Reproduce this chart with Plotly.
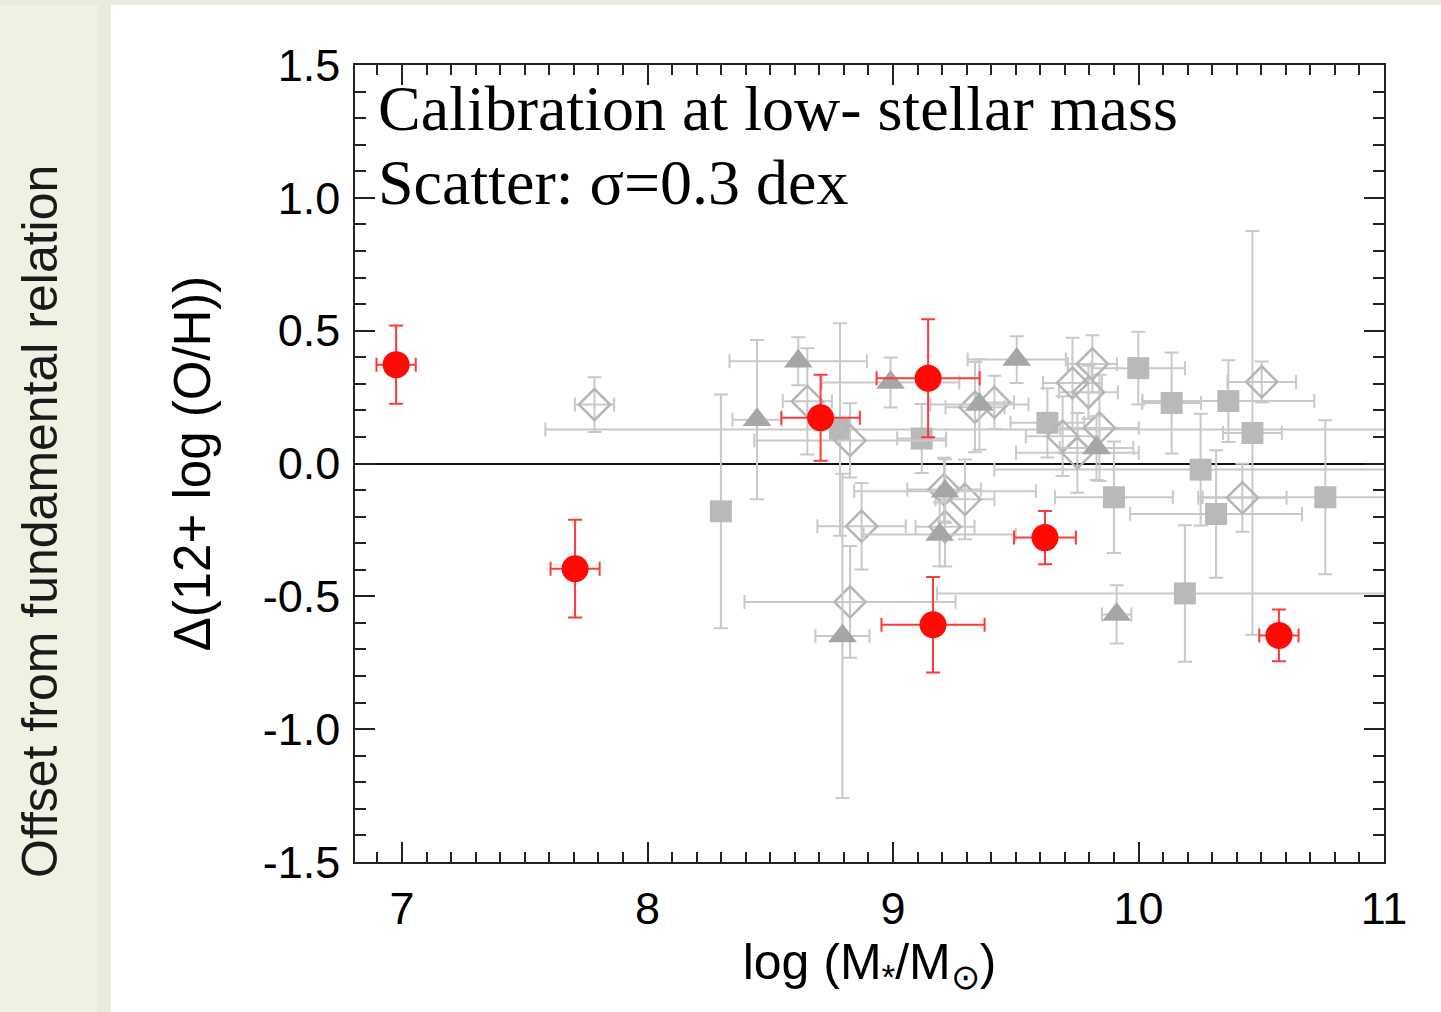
import plotly.graph_objects as go

# ---------------- data ----------------
# red filled circles
red_x = [6.976, 7.705, 8.705, 9.143, 9.619, 9.163, 10.572]
red_y = [0.372, -0.396, 0.172, 0.321, -0.279, -0.607, -0.647]
red_xerr = [0.08, 0.10, 0.16, 0.21, 0.126, 0.21, 0.08]
red_yerr = [0.147, 0.184, 0.162, 0.222, 0.10, 0.18, 0.097]

# grey filled squares
sq_x = [8.299, 8.784, 9.117, 9.629, 9.999, 10.135, 10.366, 10.464, 10.253, 10.189, 10.316, 9.900, 10.761]
sq_y = [-0.180, 0.128, 0.094, 0.153, 0.359, 0.228, 0.235, 0.115, -0.023, -0.489, -0.190, -0.127, -0.127]
sq_xerr_lo = [0.0, 1.20, 0.10, 0.15, 0.19, 0.12, 0.35, 0.12, 0.84, 1.01, 0.35, 0.24, 0.50]
sq_xerr_hi = [0.0, 2.30, 0.10, 0.15, 0.19, 0.12, 0.35, 0.12, 0.84, 1.01, 0.35, 0.24, 0.50]
sq_yerr = [0.44, 0.40, 0.13, 0.13, 0.137, 0.19, 0.154, 0.76, 0.21, 0.257, 0.24, 0.21, 0.29]

# grey filled triangles
tr_x = [8.446, 8.614, 8.990, 9.504, 9.352, 9.829, 9.212, 9.190, 8.794, 9.911]
tr_y = [0.165, 0.385, 0.305, 0.391, 0.222, 0.058, -0.104, -0.267, -0.649, -0.568]
tr_xerr = [0.10, 0.28, 0.28, 0.20, 0.20, 0.15, 0.37, 0.31, 0.11, 0.06]
tr_yerr = [0.30, 0.09, 0.094, 0.088, 0.17, 0.12, 0.12, 0.12, 0.61, 0.11]

# grey open diamonds
di_x = [7.784, 8.651, 8.825, 8.872, 8.825, 9.208, 9.293, 9.212, 9.334, 9.413,
        9.812, 9.731, 9.796, 9.841, 9.691, 9.751, 10.502, 10.423]
di_y = [0.222, 0.234, 0.087, -0.236, -0.521, -0.098, -0.135, -0.238, 0.212, 0.230,
        0.375, 0.303, 0.268, 0.134, 0.103, 0.040, 0.307, -0.129]
di_xerr = [0.08, 0.10, 0.39, 0.18, 0.43, 0.15, 0.12, 0.12, 0.12, 0.08,
           0.10, 0.12, 0.12, 0.16, 0.15, 0.25, 0.14, 0.18]
di_yerr = [0.103, 0.20, 0.14, 0.163, 0.21, 0.12, 0.15, 0.15, 0.17, 0.10,
           0.108, 0.17, 0.10, 0.20, 0.15, 0.15, 0.077, 0.128]

x_ticks = [7, 8, 9, 10, 11]
y_ticks = [-1.5, -1.0, -0.5, 0.0, 0.5, 1.0, 1.5]
y_ticktext = ["-1.5", "-1.0", "-0.5", "0.0", "0.5", "1.0", "1.5"]

GREY_ERR = "#c9c9c9"
SANS = "Liberation Sans, Arial, Helvetica, sans-serif"
SERIF = "Liberation Serif, Times New Roman, serif"

fig = go.Figure()

fig.add_trace(go.Scatter(
    x=sq_x, y=sq_y, mode="markers",
    marker=dict(symbol="square", size=22, color="#b9b9b9", line=dict(width=0)),
    error_x=dict(type="data", symmetric=False, array=sq_xerr_hi, arrayminus=sq_xerr_lo,
                 color=GREY_ERR, thickness=2, width=7),
    error_y=dict(type="data", array=sq_yerr, color=GREY_ERR, thickness=2, width=7),
    showlegend=False))

fig.add_trace(go.Scatter(
    x=di_x, y=di_y, mode="markers",
    marker=dict(symbol="diamond-open", size=24, color="#b5b5b5", line=dict(width=2.5, color="#b5b5b5")),
    error_x=dict(type="data", array=di_xerr, color=GREY_ERR, thickness=2, width=7),
    error_y=dict(type="data", array=di_yerr, color=GREY_ERR, thickness=2, width=7),
    showlegend=False))

fig.add_trace(go.Scatter(
    x=tr_x, y=tr_y, mode="markers",
    marker=dict(symbol="triangle-up", size=25, color="#a6a6a6", line=dict(width=0)),
    error_x=dict(type="data", array=tr_xerr, color=GREY_ERR, thickness=2, width=7),
    error_y=dict(type="data", array=tr_yerr, color=GREY_ERR, thickness=2, width=7),
    showlegend=False))

fig.add_trace(go.Scatter(
    x=red_x, y=red_y, mode="markers",
    marker=dict(symbol="circle", size=27, color="#ff0a05", line=dict(width=0)),
    error_x=dict(type="data", array=red_xerr, color="#ff3a3a", thickness=2, width=7),
    error_y=dict(type="data", array=red_yerr, color="#ff3a3a", thickness=2, width=7),
    showlegend=False))

W, H = 1441, 1012
L, R, T, B = 355, 57, 65, 150
pw, ph = W - L - R, H - T - B


def px_to_paper_x(px):
    return (px - L) / pw


def px_to_paper_y(py):
    return (H - B - py) / ph


bg = "#eef2e3"
shapes = [
    dict(type="rect", xref="paper", yref="paper", layer="below",
         x0=px_to_paper_x(0), x1=px_to_paper_x(111), y0=px_to_paper_y(H), y1=px_to_paper_y(0),
         fillcolor=bg, line=dict(width=0)),
    dict(type="rect", xref="paper", yref="paper", layer="below",
         x0=px_to_paper_x(98), x1=px_to_paper_x(111), y0=px_to_paper_y(H), y1=px_to_paper_y(5),
         fillcolor="#e8ecdb", line=dict(width=0)),
    dict(type="rect", xref="paper", yref="paper", layer="below",
         x0=px_to_paper_x(0), x1=px_to_paper_x(W), y0=px_to_paper_y(5), y1=px_to_paper_y(0),
         fillcolor="#e9ecdc", line=dict(width=0)),
]

axis_common = dict(
    showline=True, linecolor="#222222", linewidth=1.5, mirror="allticks",
    ticks="inside", ticklen=20, tickwidth=1.5, tickcolor="#222222",
    showgrid=False, tickfont=dict(family=SANS, size=45, color="black"),
)

fig.update_layout(
    width=W, height=H,
    margin=dict(l=L, r=R, t=T, b=B),
    paper_bgcolor="white", plot_bgcolor="white",
    shapes=shapes,
    xaxis=dict(range=[6.8085, 11.0], tickvals=x_ticks, ticktext=[str(v) for v in x_ticks],
               zeroline=False, ticklabelstandoff=6,
               minor=dict(dtick=0.1, ticks="inside", ticklen=10, tickwidth=1.5, tickcolor="#222222", showgrid=False),
               title=dict(text="log (M<sub>*</sub>/M<sub>⊙</sub>)", font=dict(family=SANS, size=50, color="black"), standoff=2),
               **axis_common),
    yaxis=dict(range=[-1.5, 1.5], tickvals=y_ticks, ticktext=y_ticktext,
               zeroline=True, zerolinecolor="#111111", zerolinewidth=1.5, ticklabelstandoff=4,
               minor=dict(dtick=0.1, ticks="inside", ticklen=11, tickwidth=1.5, tickcolor="#222222", showgrid=False),
               title=dict(text="Δ(12+ log (O/H))", font=dict(family=SANS, size=51, color="black"), standoff=36),
               **axis_common),
    annotations=[
        dict(text="Calibration at low- stellar mass", x=6.895, y=1.335, xref="x", yref="y",
             xanchor="left", yanchor="middle", showarrow=False,
             font=dict(family=SERIF, size=64, color="black")),
        dict(text="Scatter: σ=0.3 dex", x=6.895, y=1.058, xref="x", yref="y",
             xanchor="left", yanchor="middle", showarrow=False,
             font=dict(family=SERIF, size=64, color="black")),
        dict(text="Offset from fundamental relation", textangle=-90,
             x=px_to_paper_x(40), y=px_to_paper_y(522), xref="paper", yref="paper",
             xanchor="center", yanchor="middle", showarrow=False,
             font=dict(family=SANS, size=50, color="#1a1a1a")),
    ],
)

fig.write_html("out.html")
